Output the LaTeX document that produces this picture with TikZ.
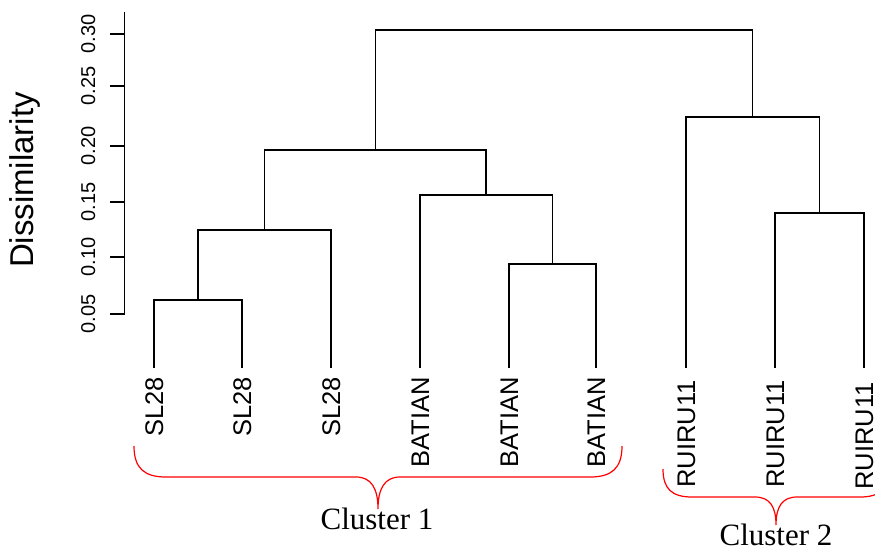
\documentclass[tikz,border=0pt]{standalone}
\usepackage{fontspec}
\setmainfont{Liberation Sans}
\newfontfamily\clusterfont{Liberation Serif}
\begin{document}
\begin{tikzpicture}[x=1pt,y=-1pt,
  branch/.style={draw=black,line width=1.1pt},
  leaflabel/.style={rotate=90,anchor=base east,inner sep=0pt,text depth=0pt,font=\fontsize{25.5}{30}\selectfont},
  ticklabel/.style={rotate=90,anchor=base,inner sep=0pt,font=\fontsize{20}{24}\selectfont},
  axislabel/.style={rotate=90,anchor=base,inner sep=0pt,font=\fontsize{33}{38}\selectfont},
  brace/.style={draw=red,line width=1.2pt},
  clusterlabel/.style={anchor=base,inner sep=0pt,font=\clusterfont\fontsize{31}{36}\selectfont}]
\useasboundingbox (0,0) rectangle (875,551);
\fill[white] (0,0) rectangle (875,551);

% leaves
\foreach \n/\x in {1/154,2/242,3/331,4/420,5/509,6/596,7/686,8/775,9/864}
  \coordinate (l\n) at (\x,368);

% merge points
\coordinate (mA) at (198,300);
\coordinate (mB) at (264.5,230);
\coordinate (mC) at (552.5,264);
\coordinate (mD) at (486,195);
\coordinate (mE) at (375.5,150);
\coordinate (mF) at (819.5,213);
\coordinate (mG) at (752.5,117);
\coordinate (mH) at (564,30);

% dendrogram
\draw[branch] (l1) |- (mA) -| (l2);
\draw[branch] (mA) |- (mB) -| (l3);
\draw[branch] (l5) |- (mC) -| (l6);
\draw[branch] (l4) |- (mD) -| (mC);
\draw[branch] (mB) |- (mE) -| (mD);
\draw[branch] (l8) |- (mF) -| (l9);
\draw[branch] (l7) |- (mG) -| (mF);
\draw[branch] (mE) |- (mH) -| (mG);

% leaf labels
\foreach \n/\x/\t in {1/154/SL28,2/242/SL28,3/331/SL28,4/420/BATIAN,5/509/BATIAN,6/596/BATIAN}
  \node[leaflabel] (t\n) at (\x+9,377) {\t};
\foreach \n/\x in {7/686,8/775}
  \node[leaflabel] (t\n) at (\x+9,380) {RUIRU11};
\node[leaflabel] (t9) at (873,382) {RUIRU11};

% axis
\coordinate (atop) at (124.5,12);
\coordinate (abot) at (124.5,314);
\draw[branch] (atop) -- (abot);
\foreach \i/\y/\v in {1/34/0.30,2/86/0.25,3/146/0.20,4/202/0.15,5/257/0.10,6/314/0.05}{
  \coordinate (tk\i) at (124.5,\y);
  \coordinate (tl\i) at (110,\y);
  \draw[branch] (tk\i) -- (tl\i);
  \node[ticklabel] (tn\i) at (95,\y) {\v};
}
\node[axislabel] (ylab) at (33,180) {Dissimilarity};

% cluster 1 brace
\coordinate (b1l) at (134,446);
\coordinate (b1t) at (378,509);
\coordinate (b1r) at (622,446);
\draw[brace] (b1l) .. controls (134,468) and (144,477) .. (166,477)
  -- (356,477) .. controls (371,477) and (378,488) .. (b1t)
  .. controls (378,488) and (385,477) .. (400,477)
  -- (590,477) .. controls (612,477) and (622,468) .. (b1r);
\node[clusterlabel] (c1) at (377,529) {Cluster 1};

% cluster 2 brace
\coordinate (b2l) at (663,469);
\coordinate (b2t) at (776,525);
\coordinate (b2r) at (889,469);
\draw[brace] (b2l) .. controls (663,489) and (672,497) .. (692,497)
  -- (755,497) .. controls (770,497) and (776,507) .. (b2t)
  .. controls (776,507) and (782,497) .. (797,497)
  -- (860,497) .. controls (880,497) and (889,489) .. (b2r);
\node[clusterlabel] (c2) at (776,545) {Cluster 2};
\end{tikzpicture}
\end{document}
